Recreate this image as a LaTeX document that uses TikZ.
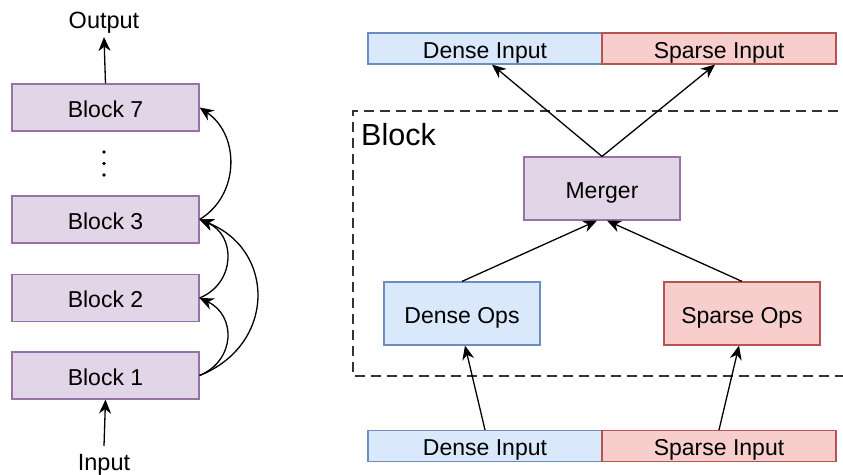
\documentclass[tikz,border=0pt]{standalone}
\usepackage{fontspec}
\setmainfont{Liberation Sans}
\usetikzlibrary{arrows.meta}
\definecolor{pfill}{HTML}{E1D5E7}
\definecolor{pdraw}{HTML}{9673A6}
\definecolor{bfill}{HTML}{DAE8FC}
\definecolor{bdraw}{HTML}{6C8EBF}
\definecolor{rfill}{HTML}{F8CECC}
\definecolor{rdraw}{HTML}{B85450}
\tikzset{
  box/.style={draw, line width=1.2pt, inner sep=0pt, text height=19pt, text depth=0pt, font=\fontsize{23}{27}\selectfont},
  blk/.style={box, fill=pfill, draw=pdraw, minimum width=187pt, minimum height=47pt},
  mbox/.style={box, fill=pfill, draw=pdraw, minimum width=156pt, minimum height=63pt},
  dbox/.style={box, fill=bfill, draw=bdraw, minimum width=156pt, minimum height=63pt},
  sbox/.style={box, fill=rfill, draw=rdraw, minimum width=156pt, minimum height=63pt},
  dinp/.style={box, fill=bfill, draw=bdraw, minimum width=234pt, minimum height=31pt},
  sinp/.style={box, fill=rfill, draw=rdraw, minimum width=234pt, minimum height=31pt},
  lbl/.style={inner sep=0pt, font=\fontsize{23.5}{27}\selectfont},
  arr/.style={-{Stealth[length=14pt,width=12pt,inset=4.5pt]}, line width=1.3pt},
}
\begin{document}
\begin{tikzpicture}[x=1pt,y=-1pt]
\useasboundingbox (0,0) rectangle (843,474);
% left column
\node[blk] (b7) at (105.5,107.5) {Block 7};
\node[blk] (b3) at (105.5,219.5) {Block 3};
\node[blk] (b2) at (105.5,298) {Block 2};
\node[blk] (b1) at (105.5,375.5) {Block 1};
\node[lbl, anchor=base] (out) at (104,28) {Output};
\node[lbl, anchor=base] (inp) at (104,470) {Input};
\fill (104,152) circle (1.8) (104,163.5) circle (1.8) (104,175) circle (1.8);
\draw[arr] (b7.north) -- (out.south |- 0,37);
\draw[arr] (inp.north |- 0,446) -- (b1.south);
\draw[arr] (b3.east) .. controls (240,195) and (240,135) .. (b7.east);
\draw[arr] (b1.east) .. controls (276,345) and (276,250) .. (b3.east);
\draw[arr] (b1.east) .. controls (236,360) and (236,315) .. (b2.east);
\draw[arr] (b2.east) .. controls (236,283) and (236,235) .. (b3.east);
% right part
\draw[dash pattern=on 10pt off 6pt, line width=1.3pt, black!80] (870,111) -- (353,111) -- (353,376) -- (870,376);
\node[inner sep=0pt, anchor=west, font=\fontsize{30.5}{34}\selectfont] (blab) at (361,135) {Block};
\node[dinp] (ti1) at (485,48.5) {Dense Input};
\node[sinp] (ti2) at (719,48.5) {Sparse Input};
\node[mbox] (m) at (602,188.5) {Merger};
\node[dbox] (do) at (462,313.5) {Dense Ops};
\node[sbox] (so) at (742,313.5) {Sparse Ops};
\node[dinp] (bi1) at (485,446) {Dense Input};
\node[sinp] (bi2) at (719,446) {Sparse Input};
\draw[arr] (m.north) -- ([xshift=7pt]ti1.south);
\draw[arr] (m.north) -- ([xshift=-4pt]ti2.south);
\draw[arr] (do.north) -- ([xshift=-5pt]m.south);
\draw[arr] (so.north) -- ([xshift=5pt]m.south);
\draw[arr] (bi1.north) -- ([xshift=3pt]do.south);
\draw[arr] (bi2.north) -- ([xshift=-3pt]so.south);
\end{tikzpicture}
\end{document}
